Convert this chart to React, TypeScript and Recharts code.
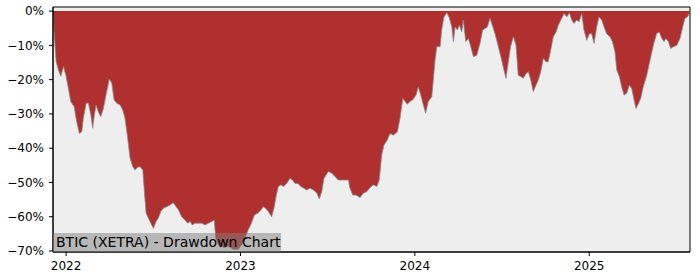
import React from "react";
import {
  AreaChart, Area, XAxis, YAxis, CartesianGrid, ReferenceArea,
} from "recharts";

// decimal year of each sample
const time = [
  2021.925, 2021.931, 2021.943, 2021.956, 2021.970, 2021.985, 2022.000, 2022.013, 2022.027, 2022.046,
  2022.061, 2022.076, 2022.090, 2022.099, 2022.115, 2022.128, 2022.142, 2022.153, 2022.162, 2022.172,
  2022.185, 2022.199, 2022.214, 2022.229, 2022.248, 2022.262, 2022.275, 2022.291, 2022.310, 2022.325,
  2022.338, 2022.351, 2022.367, 2022.382, 2022.396, 2022.409, 2022.424, 2022.440, 2022.449, 2022.459,
  2022.472, 2022.486, 2022.501, 2022.516, 2022.529, 2022.543, 2022.558, 2022.577, 2022.596, 2022.615,
  2022.631, 2022.644, 2022.663, 2022.682, 2022.698, 2022.711, 2022.724, 2022.740, 2022.759, 2022.778,
  2022.797, 2022.816, 2022.835, 2022.850, 2022.858, 2022.873, 2022.902, 2022.931, 2022.959, 2022.988,
  2023.007, 2023.026, 2023.042, 2023.061, 2023.080, 2023.099, 2023.118, 2023.131, 2023.145, 2023.160,
  2023.179, 2023.194, 2023.204, 2023.217, 2023.233, 2023.246, 2023.265, 2023.284, 2023.298, 2023.313,
  2023.329, 2023.347, 2023.366, 2023.380, 2023.399, 2023.418, 2023.438, 2023.452, 2023.466, 2023.479,
  2023.504, 2023.524, 2023.542, 2023.561, 2023.590, 2023.619, 2023.628, 2023.644, 2023.663, 2023.686,
  2023.705, 2023.724, 2023.743, 2023.762, 2023.782, 2023.796, 2023.810, 2023.823, 2023.842, 2023.858,
  2023.877, 2023.900, 2023.915, 2023.931, 2023.944, 2023.957, 2023.972, 2023.988, 2024.007, 2024.020,
  2024.034, 2024.049, 2024.062, 2024.077, 2024.097, 2024.106, 2024.116, 2024.126, 2024.145, 2024.154,
  2024.167, 2024.183, 2024.196, 2024.212, 2024.221, 2024.231, 2024.244, 2024.255, 2024.269, 2024.278,
  2024.292, 2024.307, 2024.321, 2024.336, 2024.355, 2024.374, 2024.389, 2024.403, 2024.416, 2024.431,
  2024.447, 2024.460, 2024.479, 2024.498, 2024.511, 2024.523, 2024.536, 2024.550, 2024.565, 2024.580,
  2024.593, 2024.607, 2024.622, 2024.638, 2024.651, 2024.665, 2024.679, 2024.695, 2024.708, 2024.722,
  2024.737, 2024.752, 2024.765, 2024.779, 2024.794, 2024.810, 2024.823, 2024.842, 2024.857, 2024.871,
  2024.886, 2024.900, 2024.913, 2024.928, 2024.942, 2024.957, 2024.970, 2024.986, 2025.001, 2025.014,
  2025.028, 2025.043, 2025.056, 2025.072, 2025.085, 2025.100, 2025.119, 2025.133, 2025.148, 2025.158,
  2025.173, 2025.186, 2025.200, 2025.215, 2025.230, 2025.244, 2025.257, 2025.268, 2025.282, 2025.295,
  2025.310, 2025.330, 2025.349, 2025.368, 2025.387, 2025.402, 2025.416, 2025.429, 2025.440, 2025.454,
  2025.467, 2025.482, 2025.502, 2025.521, 2025.536, 2025.549, 2025.563, 2025.574,
];

// drawdown from running peak, %
const drawdown = [
  -1, -6, -14.8, -17.2, -19, -16.2, -19, -22.5, -26.4, -27.9,
  -32.3, -35.7, -35.2, -31.3, -26.9, -26.8, -30.3, -34.2, -30.3, -27.4,
  -29.4, -30.8, -28.4, -24.5, -19.8, -21, -25.9, -26.9, -27.4, -28.9,
  -31.3, -36.2, -42.9, -45.4, -46.4, -45.6, -45.4, -46.4, -52.7, -59,
  -60.4, -61.9, -63.4, -61.4, -60.4, -58.5, -57.5, -57.1, -56.6, -55.9,
  -57.1, -58, -60, -61, -61.9, -61.4, -62.4, -61.9, -61.9, -61.9,
  -62.4, -61.9, -61.4, -61, -66.3, -68.2, -69, -68.7, -69.5, -69.5,
  -68.2, -66.3, -64.1, -62.1, -59.5, -59, -58, -57.1, -57.6, -58.5,
  -60, -57.1, -54.1, -51.2, -50.7, -51.2, -50.3, -48.8, -49.3, -50.3,
  -50.3, -51.2, -51.8, -52.2, -51.7, -52.2, -53.1, -54.8, -52.7, -48.8,
  -46.8, -47.3, -48.3, -49.3, -49.3, -49.3, -51.7, -53.7, -53.7, -54.4,
  -53.1, -52.7, -51.5, -50.7, -51.2, -49.3, -42, -39.1, -37.6, -35.7,
  -36.2, -35.2, -31.3, -25.5, -26.4, -27.2, -26.4, -25.9, -24.5, -22.1,
  -24.5, -27.4, -29.8, -26.4, -25, -20.1, -14.3, -10.4, -10.4, -5.5,
  -1.7, -0.5, -1.7, -4.6, -8.9, -4.6, -5.5, -4.1, -6, -2.6,
  -8.9, -8, -10.4, -13.3, -12.9, -9.4, -5.5, -5.1, -4.6, -2.1,
  -4.6, -6.6, -10.4, -14.3, -17.2, -19.6, -14.8, -10.2, -7.5, -9.9,
  -18.7, -19.1, -19.6, -18.2, -17.7, -20.1, -23.5, -21.6, -20.1, -17.7,
  -13.8, -14.8, -14.8, -11.4, -7.5, -6.1, -4.1, -2.1, -0.7, -1.7,
  -0.5, -2.6, -3.6, -2.6, -3.1, -0.7, -5.5, -8.5, -6.6, -6.6,
  -9.4, -4.6, -1.7, -2.6, -4.6, -6.6, -7.5, -8.9, -11.9, -17.2,
  -19.1, -22.1, -24.5, -24, -21.6, -22.6, -25.9, -28.4, -27, -25.5,
  -22.1, -18.7, -14.3, -9.9, -6.5, -6.1, -7.9, -8.9, -8, -8.9,
  -10.9, -10.4, -10, -7.9, -4.6, -2.1, -1.7, -0.7,
];

const yearTicks = [2022, 2023, 2024, 2025];
const pctTicks = [0, -10, -20, -30, -40, -50, -60, -70];
const title = "BTIC (XETRA) - Drawdown Chart";

const data = time.map((t, i) => ({ t, dd: drawdown[i] }));

const xDomain = [2021.925, 2025.578];
const yDomain = [-70.3, 1.2];

const fmtPct = (v: number) => (v === 0 ? "0%" : "\u2212" + Math.abs(v) + "%");
const tickStyle = { fill: "#000", fontSize: 12, fontFamily: "DejaVu Sans" };

export default function App() {
  return (
    <div style={{ position: "absolute", left: 0, top: 0, width: 700, height: 280, background: "#fff" }}>
      <AreaChart width={700} height={280} data={data} margin={{ top: 7, right: 10, left: 0, bottom: 0 }}>
        <CartesianGrid horizontal={false} vertical={false} fill="#eeeeee" />
        <XAxis dataKey="t" type="number" domain={xDomain} ticks={yearTicks} allowDataOverflow
          height={28} tick={tickStyle} tickSize={4} tickMargin={5}
          axisLine={{ stroke: "#000" }} tickLine={{ stroke: "#000" }} />
        <YAxis type="number" domain={yDomain} ticks={pctTicks} allowDataOverflow width={53}
          tick={tickStyle} tickSize={4} tickMargin={5} tickFormatter={fmtPct}
          axisLine={{ stroke: "#000" }} tickLine={{ stroke: "#000" }} />
        <Area type="linear" dataKey="dd" baseValue={0} stroke="#8a8a8a" strokeWidth={0.8}
          fill="#b03030" fillOpacity={1} dot={false} activeDot={false} isAnimationActive={false} />
        <ReferenceArea x1={xDomain[0]} x2={xDomain[1]} y1={yDomain[0]} y2={yDomain[1]}
          fill="none" stroke="#000" strokeWidth={1} />
      </AreaChart>
      <div style={{
        position: "absolute", left: 53, top: 233, width: 228, height: 19,
        background: "rgba(128,128,128,0.5)", fontFamily: "DejaVu Sans", fontSize: 14,
        lineHeight: "19px", color: "#000", paddingLeft: 3, boxSizing: "border-box", whiteSpace: "nowrap",
      }}>
        {title}
      </div>
    </div>
  );
}
